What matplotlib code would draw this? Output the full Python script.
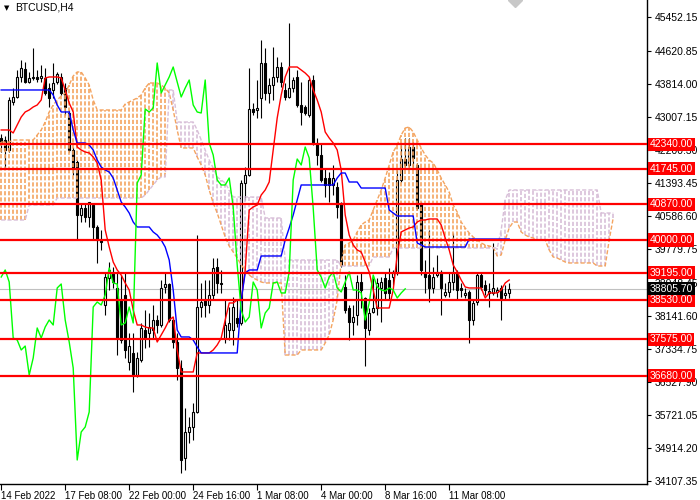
import matplotlib
matplotlib.use("Agg")
import matplotlib.pyplot as plt
import numpy as np

plt.rcParams["font.family"] = ["Liberation Sans", "DejaVu Sans"]

# H4 candles, bar 0 = 14 Feb 2022 00:00
opens = [
    42494, 42445, 42201, 43374, 43497, 43986, 44181, 43863, 43961, 43986,
    43961, 43961, 43716, 43668, 43863, 43986, 43716, 43105, 42201, 41907,
    40611, 40782, 40562, 40856, 40318, 40000, 38411, 39071, 39193, 38827,
    38533, 38655, 37017, 37238, 36699, 37066, 37800, 37727, 37800, 38044,
    37922, 38851, 38924, 38044, 37506, 36871, 34670, 35306, 35428, 35795,
    38362, 38533, 38411, 38655, 39340, 38949, 37604, 37800, 37800, 38093,
    37971, 41394, 41590, 43203, 43179, 43472, 44328, 43594, 43790, 43986,
    44230, 43668, 43497, 43716, 43986, 43301, 43252, 43056, 43912, 42372,
    42078, 41516, 41516, 41345, 41296, 40905, 38851, 38338, 37995, 38166,
    38973, 38582, 37800, 38240, 38338, 38827, 39071, 39022, 39095, 39193,
    41467, 41980, 41834, 42274, 41834, 40905, 39193, 39144, 38827, 39144,
    39218, 38655, 38729, 38973, 39218, 38827, 38655, 38729, 38044, 38484,
    39144, 38900, 38705, 38705, 38729, 38827, 38655, 38705,
]
highs = [
    42592, 42543, 43497, 43716, 44157, 44401, 44352, 44108, 44694, 44157,
    44279, 44206, 43839, 44328, 44108, 44083, 43839, 43179, 42274, 41956,
    40905, 40905, 40929, 40905, 40367, 40245, 39193, 39462, 39340, 39193,
    39144, 39193, 37727, 37727, 37262, 37971, 38289, 38216, 38411, 38166,
    39022, 39193, 38949, 38118, 37727, 37066, 35893, 35673, 36015, 40122,
    38949, 39022, 39022, 39560, 39560, 39267, 38533, 38362, 38606, 38533,
    41467, 41785, 44206, 43350, 43912, 44890, 44694, 43961, 44719, 44475,
    44352, 43839, 45306, 43986, 44157, 43863, 43301, 43986, 44035, 42494,
    42372, 41760, 41663, 41834, 41418, 40929, 39144, 38411, 38411, 39144,
    39218, 38606, 38338, 39071, 39071, 39095, 39193, 39316, 39267, 41712,
    42323, 42494, 42494, 42396, 41883, 40929, 39511, 40245, 39340, 39633,
    39267, 38949, 39218, 40171, 39267, 38949, 38827, 38778, 38533, 39193,
    39193, 39022, 38949, 39927, 38851, 38900, 38900, 38949,
]
lows = [
    42152, 41760, 42152, 43301, 43472, 43863, 43839, 43839, 43912, 43863,
    43863, 43545, 43252, 43472, 43814, 43545, 43056, 42152, 41590, 40000,
    40440, 40440, 40318, 40000, 39438, 39756, 38166, 38778, 38827, 37189,
    37482, 37115, 36822, 36284, 36650, 37017, 37360, 37384, 37604, 37727,
    37873, 38705, 37995, 37360, 36577, 34303, 34377, 35037, 35110, 35771,
    38118, 38118, 38215, 38533, 38705, 38705, 37482, 37555, 37433, 37873,
    37922, 40978, 41565, 43056, 42983, 42983, 43423, 43350, 43423, 43863,
    43741, 43423, 43472, 43619, 43252, 42812, 43056, 43007, 42323, 41834,
    41418, 41051, 40929, 41100, 40538, 39340, 38215, 37555, 37678, 37922,
    38338, 36915, 37678, 38215, 38166, 37995, 38533, 38533, 38900, 39144,
    41418, 41785, 41785, 41785, 40734, 39144, 38705, 38484, 38705, 39095,
    38166, 38606, 38606, 38778, 38533, 38606, 38582, 37482, 37922, 38411,
    38778, 38655, 38362, 38655, 38606, 38044, 38533, 38582,
]
closes = [
    42372, 42201, 43423, 43497, 43986, 44205, 43863, 43961, 43986, 43937,
    44010, 43594, 43472, 43839, 44059, 43594, 43252, 42201, 41760, 40611,
    40782, 40562, 40929, 40318, 40000, 39951, 39095, 39267, 38973, 37604,
    37555, 37311, 37408, 36699, 37115, 37849, 37604, 37873, 38044, 37922,
    38827, 38924, 38044, 37506, 36871, 34621, 35306, 35428, 35795, 38362,
    38484, 38411, 38655, 39316, 38949, 38924, 37922, 37971, 38362, 37971,
    41394, 41590, 43203, 43130, 43228, 44328, 43594, 43790, 43986, 44230,
    43863, 43497, 43716, 43912, 43301, 43130, 43105, 43912, 42372, 42078,
    41467, 41345, 41345, 41516, 40807, 39389, 38289, 37995, 38118, 38973,
    38778, 37849, 38215, 38338, 38949, 38973, 38705, 38705, 39218, 41467,
    41980, 41834, 42274, 42005, 40782, 39267, 39095, 38827, 39095, 39218,
    38827, 38729, 38973, 39218, 38778, 38778, 38705, 38044, 38460, 39144,
    38851, 38778, 38753, 38827, 38778, 38582, 38705, 38805.7,
]

# Ichimoku lines
tenkan = [
    42690, 42690, 42690, 42617, 42812, 43007, 43130, 43179, 43252, 43301,
    43423, 43961, 43986, 43986, 43986, 43961, 43668, 43350, 43130, 42274,
    42201, 42152, 42128, 42030, 41883, 41467, 40245, 39829, 39462, 39267,
    39144, 38949, 38778, 38289, 37922, 37922, 37873, 37849, 37849, 37506,
    37678, 37849, 38044, 38118, 37311, 36773, 36773, 36773, 36773, 37238,
    37238, 37238, 37238, 37311, 37433, 37604, 38044, 38460, 38460, 38533,
    38533, 39267, 40734, 40807, 40856, 41100, 41223, 41418, 42201, 42983,
    43545, 43986, 44230, 44230, 44230, 44157, 44083, 43986, 43668, 43423,
    43130, 42641, 42494, 42372, 42201, 41712, 40611, 40122, 39878, 39756,
    39707, 39462, 39218, 38778, 38338, 38338, 38338, 38338, 38778, 39633,
    40196, 40245, 40294, 40318, 40440, 40489, 40489, 40514, 40514, 40514,
    40367, 40049, 39756, 39389, 39218, 39022, 38851, 38827, 38827, 38827,
    38827, 38582, 38705, 38705, 38705, 38778, 38949, 39022,
]
kijun = [
    43668, 43668, 43668, 43668, 43668, 43668, 43668, 43668, 43668, 43668,
    43668, 43668, 43668, 43545, 43301, 43130, 43130, 43130, 42690, 42372,
    42372, 42372, 42323, 42201, 41956, 41785, 41712, 41663, 41516, 41223,
    40929, 40807, 40660, 40440, 40318, 40318, 40318, 40318, 40196, 40122,
    40000, 39829, 39511, 38778, 37800, 37629, 37629, 37629, 37555, 37384,
    37238, 37238, 37238, 37238, 37238, 37238, 37238, 37238, 37238, 37238,
    38533, 39193, 39267, 39267, 39267, 39609, 39609, 39609, 39609, 39609,
    39609, 40000, 40294, 40611, 40978, 41345, 41345, 41345, 41345, 41345,
    41345, 41345, 41345, 41345, 41516, 41638, 41638, 41418, 41418, 41418,
    41271, 41271, 41271, 41271, 41271, 41271, 41271, 40734, 40660, 40587,
    40587, 40587, 40587, 40587, 39927, 39878, 39829, 39829, 39829, 39829,
    39829, 39829, 39829, 39829, 39829, 39829, 39829, 40024, 40024, 40024,
    40024, 40024, 40024, 40024, 40024, 40024, 40024, 40024,
]
span_a = [
    42396, 42396, 42396, 42445, 42445, 42445, 42445, 42445, 42445, 42567,
    42690, 42885, 43130, 43301, 43423, 43521, 43594, 43790, 44010, 44108,
    44108, 43961, 43790, 43423, 43179, 43179, 43179, 43179, 43179, 43179,
    43179, 43325, 43374, 43423, 43472, 43545, 43716, 43839, 43839, 43839,
    43790, 43716, 43594, 43179, 42690, 42250, 42250, 42250, 42250, 42030,
    41834, 41590, 41223, 40905, 40660, 40367, 40073, 39853, 39707, 39560,
    39389, 39267, 39144, 39071, 39022, 38973, 38949, 38949, 38949, 38949,
    38949, 37188, 37188, 37188, 37188, 37311, 37311, 37311, 37311, 37311,
    37311, 37482, 37678, 38044, 38533, 39462, 39878, 39927, 40000, 40196,
    40367, 40440, 40489, 40734, 40978, 41223, 41516, 41834, 42152, 42323,
    42567, 42738, 42763, 42641, 42445, 42250, 42079, 41956, 41883, 41712,
    41516, 41345, 41174, 40856, 40685, 40440, 40294, 40171, 40073, 40000,
    39927, 39878, 39853, 39829, 39609, 39633, 40000, 40294, 40440, 40440,
    40196, 40122, 40073, 40049, 40000, 40000, 40000, 39756, 39584, 39560,
    39511, 39462, 39438, 39438, 39438, 39438, 39438, 39438, 39438, 39364,
    39364, 39364, 40000, 40538,
]
span_b = [
    40489, 40489, 40489, 40489, 40489, 40489, 40489, 40856, 40856, 40856,
    40856, 40856, 40856, 40856, 41027, 41027, 41027, 41027, 41027, 41027,
    41027, 41027, 41027, 41027, 41027, 41027, 41027, 41027, 41027, 41027,
    41027, 41027, 41027, 41027, 41027, 41027, 41100, 41223, 41345, 41467,
    41541, 41541, 43668, 43668, 42885, 42885, 42885, 42885, 42885, 42690,
    42445, 42201, 41956, 41760, 41541, 41467, 41394, 41223, 41051, 41051,
    41051, 41051, 41051, 41051, 41051, 41051, 40538, 40538, 40538, 40538,
    40538, 39511, 39511, 39511, 39511, 39511, 39511, 39511, 39511, 39511,
    39511, 39511, 39511, 39511, 39511, 39364, 39364, 39364, 39364, 39364,
    39364, 39364, 39364, 39584, 39584, 39584, 39584, 39584, 39804, 39804,
    39804, 39804, 39804, 39804, 39804, 39804, 39804, 39804, 39804, 39804,
    39804, 39804, 39804, 39804, 39804, 39804, 39804, 39804, 39804, 39804,
    39804, 39804, 39804, 39804, 39804, 40245, 40978, 41223, 41223, 41223,
    41223, 41223, 41223, 41223, 41223, 41223, 41223, 41223, 41223, 41223,
    41223, 41223, 41223, 41223, 41223, 41223, 41223, 41223, 41223, 41223,
    40660, 40660, 40660, 40660,
]
chikou_shift = 26

levels = [42340.00, 41745.00, 40870.00, 40000.00, 39195.00, 38530.00, 37575.00, 36680.00]
last_price = 38805.70

price_ticks = [45452.15, 44620.85, 43814.00, 43007.15, 42200.30, 41393.45, 40586.60,
               39779.75, 38948.45, 38141.60, 37334.75, 36527.90, 35721.05, 34914.20, 34107.35]
date_ticks = [0, 16, 32, 48, 64, 80, 96, 112]
date_labels = ["14 Feb 2022", "17 Feb 08:00", "22 Feb 00:00", "24 Feb 16:00",
               "1 Mar 08:00", "4 Mar 00:00", "8 Mar 16:00", "11 Mar 08:00"]

SANDY = "#F4A460"
THISTLE = "#D8BFD8"
DOTS = (0, (3, 1.5))
BAR_DOTS = (0, (2.5, 1.2))


def draw_cloud(ax):
    """Draws the Kumo as dotted vertical bars plus the two span lines."""
    a = np.array(span_a, dtype=float)
    b = np.array(span_b, dtype=float)
    bars = np.arange(len(a))
    for i in bars:
        colour = SANDY if a[i] >= b[i] else THISTLE
        ax.plot([i, i], [min(a[i], b[i]), max(a[i], b[i])], color=colour, linestyle=BAR_DOTS,
                linewidth=1.2, solid_capstyle="butt", dash_capstyle="butt", zorder=3)
    ax.plot(bars, a, color=SANDY, linestyle=DOTS, linewidth=1.0, zorder=3)
    ax.plot(bars, b, color=THISTLE, linestyle=DOTS, linewidth=1.0, zorder=3)


def draw_candles(ax):
    """Draws black/white MT4 style candlesticks."""
    o = np.array(opens, dtype=float)
    c = np.array(closes, dtype=float)
    x = np.arange(len(c))
    bottom = np.minimum(o, c)
    height = np.maximum(np.abs(c - o), 20)
    colors = ["white" if cl >= op else "black" for op, cl in zip(o, c)]
    ax.vlines(x, lows, highs, colors="black", linewidth=0.8, zorder=2)
    ax.bar(x, height, bottom=bottom, width=0.55, color=colors, edgecolor="black",
           linewidth=0.8, zorder=2.1)


def main():
    fig = plt.figure(figsize=(7, 5), dpi=100)
    ax = fig.add_axes([0, 16 / 500, 647 / 700, 484 / 500])
    ax.set_xlim(-0.3, -0.3 + 647 / 4)
    ax.set_ylim(34034, 45868)

    ax.axhline(last_price, color="#C0C0C0", linewidth=0.8, zorder=1.5)
    draw_candles(ax)
    draw_cloud(ax)

    x = np.arange(len(closes))
    ax.plot(x, tenkan, color="red", linewidth=1.0, zorder=4)
    ax.plot(x, kijun, color="blue", linewidth=1.0, zorder=4)
    ax.plot(x[: len(closes) - chikou_shift], closes[chikou_shift:], color="#00FF00",
            linewidth=1.0, zorder=4)

    for level in levels:
        ax.axhline(level, color="red", linewidth=1.6, zorder=5)

    # axes look
    for side in ["top", "left"]:
        ax.spines[side].set_visible(False)
    for side in ["right", "bottom"]:
        ax.spines[side].set_linewidth(1.0)
    ax.yaxis.tick_right()
    ax.set_yticks(price_ticks)
    ax.set_yticklabels([f"{v:.2f}" for v in price_ticks])
    ax.tick_params(axis="y", direction="out", length=3, width=0.8, labelsize=7.5, pad=2.5)
    ax.set_xticks(date_ticks)
    ax.set_xticklabels(date_labels)
    ax.tick_params(axis="x", direction="out", length=4, width=0.8, labelsize=7, pad=1)
    for label in ax.get_xticklabels():
        label.set_horizontalalignment("left")

    # price tags on the right scale
    for level in levels:
        ax.annotate(f"{level:.2f}", xy=(1, level), xycoords=("axes fraction", "data"),
                    xytext=(2, 0), textcoords="offset points", ha="left", va="center",
                    color="white", fontsize=7.5, annotation_clip=False, zorder=10,
                    bbox=dict(boxstyle="square,pad=0.15", fc="red", ec="none"))
    ax.annotate(f"{last_price:.2f}", xy=(1, last_price), xycoords=("axes fraction", "data"),
                xytext=(2, 0), textcoords="offset points", ha="left", va="center",
                color="white", fontsize=7.5, annotation_clip=False, zorder=10,
                bbox=dict(boxstyle="square,pad=0.15", fc="black", ec="none"))

    # chart shift marker and symbol caption
    ax.plot([128.5], [45868], marker="D", markersize=7, color="#C8C8C8", zorder=6)
    fig.text(4 / 700, 1 - 8 / 500, "\u25bc", fontsize=5, family="DejaVu Sans",
             ha="left", va="center")
    fig.text(15 / 700, 1 - 8 / 500, "BTCUSD,H4", fontsize=7.5, ha="left", va="center")

    fig.savefig("out.png", dpi=100)
    plt.close(fig)
    return 0


if __name__ == "__main__":
    raise SystemExit(main())
